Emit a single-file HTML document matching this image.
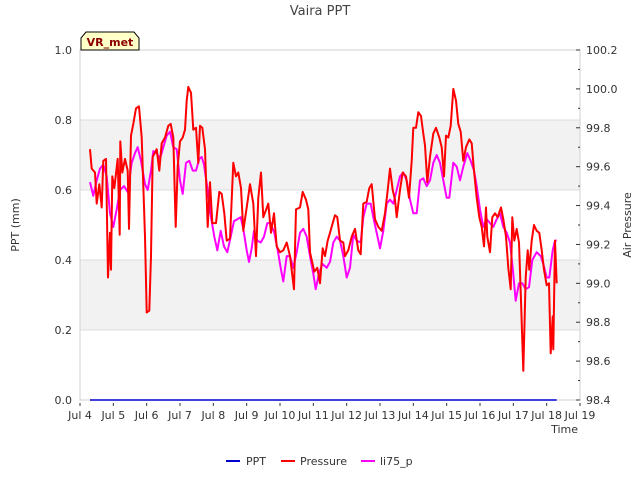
<!DOCTYPE html>
<html><head><meta charset="utf-8"><style>
body{margin:0;background:#fff;}
svg{display:block;font-family:"DejaVu Sans","Liberation Sans",sans-serif;}
</style></head><body>
<svg id="chart" width="640" height="480" viewBox="0 0 640 480">
<text x="320" y="15" text-anchor="middle" font-size="13" fill="#444">Vaira PPT</text>
<g id="plot"></g>
<text transform="translate(19,225) rotate(-90)" text-anchor="middle" font-size="11" fill="#333">PPT (mm)</text>
<text transform="translate(631,225) rotate(-90)" text-anchor="middle" font-size="11" fill="#333">Air Pressure</text>
<text x="578" y="433" text-anchor="end" font-size="11" fill="#333">Time</text>
<g>
<path d="M81,50 L81,38 L86,32 L134,32 L139,38 L139,50 Z" fill="#ffffc8" stroke="#000" stroke-width="1"/>
<text x="110" y="46" text-anchor="middle" font-size="11" font-weight="bold" fill="#8b0000">VR_met</text>
</g>
<g>
<g><line x1="226" y1="461" x2="240" y2="461" stroke="#0000cc" stroke-width="2"/><text x="246" y="465" font-size="11" fill="#333">PPT</text></g>
<g><line x1="281" y1="461" x2="295" y2="461" stroke="#ff0000" stroke-width="2"/><text x="300" y="465" font-size="11" fill="#333">Pressure</text></g>
<g><line x1="361" y1="461" x2="375" y2="461" stroke="#ff00ff" stroke-width="2"/><text x="380" y="465" font-size="11" fill="#333">li75_p</text></g>
</g>
</svg>
<script>
const xTickLabels=["Jul 4","Jul 5","Jul 6","Jul 7","Jul 8","Jul 9","Jul 10","Jul 11","Jul 12","Jul 13","Jul 14","Jul 15","Jul 16","Jul 17","Jul 18","Jul 19"];
const yTickLabels=["0.0","0.2","0.4","0.6","0.8","1.0"];
const y2TickLabels=["98.4","98.6","98.8","99.0","99.2","99.4","99.6","99.8","100.0","100.2"];
const pptDays=[0.30,14.30];
const pptValues=[0,0];
const pressureDays=[0.30,0.35,0.45,0.50,0.58,0.65,0.70,0.78,0.84,0.90,0.93,0.97,1.03,1.13,1.19,1.21,1.27,1.35,1.43,1.47,1.53,1.60,1.68,1.77,1.85,1.95,2.00,2.08,2.13,2.18,2.30,2.38,2.45,2.55,2.65,2.72,2.80,2.87,2.93,3.00,3.08,3.15,3.20,3.25,3.33,3.40,3.48,3.55,3.60,3.67,3.75,3.83,3.90,3.97,4.08,4.18,4.25,4.33,4.40,4.50,4.60,4.68,4.75,4.83,4.90,5.00,5.10,5.20,5.28,5.35,5.43,5.50,5.65,5.73,5.82,5.90,6.00,6.10,6.20,6.30,6.42,6.48,6.60,6.68,6.78,6.85,6.90,7.03,7.12,7.20,7.28,7.35,7.43,7.50,7.58,7.65,7.72,7.80,7.90,7.95,8.05,8.15,8.25,8.35,8.42,8.50,8.60,8.68,8.75,8.85,8.95,9.05,9.15,9.22,9.30,9.38,9.45,9.50,9.60,9.68,9.78,9.87,9.95,10.00,10.08,10.15,10.23,10.30,10.35,10.42,10.50,10.60,10.68,10.78,10.85,10.92,10.98,11.05,11.12,11.20,11.28,11.35,11.42,11.50,11.58,11.68,11.75,11.82,11.90,11.98,12.05,12.12,12.18,12.22,12.30,12.37,12.45,12.53,12.63,12.70,12.78,12.85,12.92,12.97,13.03,13.10,13.17,13.23,13.30,13.37,13.43,13.48,13.55,13.62,13.70,13.78,13.85,13.92,14.00,14.07,14.12,14.18,14.20,14.25,14.30];
const pressureValues=[99.69,99.59,99.57,99.41,99.51,99.39,99.63,99.64,99.03,99.26,99.07,99.55,99.49,99.64,99.25,99.73,99.57,99.64,99.58,99.28,99.76,99.82,99.90,99.91,99.75,99.24,98.85,98.86,99.14,99.65,99.69,99.58,99.72,99.75,99.81,99.82,99.75,99.29,99.60,99.73,99.75,99.79,99.94,100.01,99.98,99.79,99.80,99.62,99.81,99.80,99.69,99.29,99.52,99.31,99.31,99.47,99.46,99.36,99.22,99.23,99.62,99.55,99.57,99.49,99.27,99.39,99.51,99.41,99.14,99.44,99.57,99.34,99.41,99.26,99.36,99.19,99.16,99.17,99.21,99.14,98.97,99.38,99.39,99.47,99.43,99.38,99.16,99.06,99.08,99.00,99.18,99.14,99.22,99.26,99.31,99.35,99.34,99.22,99.21,99.14,99.17,99.24,99.28,99.17,99.15,99.41,99.42,99.49,99.51,99.33,99.29,99.27,99.36,99.46,99.59,99.48,99.43,99.34,99.48,99.57,99.55,99.44,99.63,99.80,99.80,99.88,99.86,99.77,99.71,99.52,99.65,99.77,99.80,99.75,99.70,99.55,99.76,99.75,99.81,100.00,99.94,99.82,99.78,99.63,99.70,99.74,99.72,99.58,99.44,99.34,99.29,99.19,99.39,99.24,99.16,99.34,99.36,99.34,99.39,99.33,99.24,99.08,98.97,99.34,99.22,99.28,99.21,98.91,98.55,99.03,99.17,99.07,99.22,99.30,99.27,99.26,99.17,99.07,98.99,99.00,98.64,98.83,98.66,99.22,99.00];
const li75Days=[0.30,0.40,0.50,0.60,0.70,0.80,0.90,1.00,1.10,1.20,1.32,1.43,1.55,1.65,1.73,1.83,1.95,2.03,2.13,2.20,2.30,2.40,2.50,2.60,2.70,2.80,2.90,3.00,3.08,3.18,3.28,3.38,3.48,3.58,3.65,3.72,3.83,3.93,4.03,4.12,4.22,4.32,4.42,4.52,4.62,4.72,4.82,4.90,5.00,5.07,5.15,5.22,5.32,5.42,5.52,5.62,5.72,5.83,5.93,6.03,6.10,6.20,6.30,6.40,6.50,6.60,6.70,6.80,6.90,7.00,7.07,7.17,7.27,7.40,7.50,7.60,7.70,7.80,7.90,8.00,8.10,8.20,8.30,8.42,8.50,8.60,8.72,8.80,8.90,9.00,9.10,9.20,9.30,9.40,9.50,9.60,9.70,9.80,9.90,10.00,10.10,10.20,10.30,10.40,10.50,10.60,10.70,10.80,10.90,11.00,11.08,11.20,11.30,11.40,11.50,11.62,11.72,11.82,11.90,12.00,12.10,12.20,12.30,12.40,12.50,12.60,12.70,12.80,12.90,12.98,13.07,13.17,13.27,13.37,13.47,13.57,13.70,13.82,13.90,14.00,14.08,14.18,14.25,14.30];
const li75Values=[99.52,99.45,99.53,99.59,99.61,99.55,99.36,99.29,99.38,99.48,99.50,99.47,99.62,99.67,99.70,99.63,99.51,99.48,99.58,99.68,99.67,99.64,99.70,99.76,99.78,99.70,99.69,99.53,99.46,99.62,99.63,99.58,99.58,99.64,99.65,99.61,99.48,99.34,99.24,99.17,99.27,99.19,99.16,99.24,99.32,99.33,99.34,99.28,99.17,99.11,99.18,99.27,99.22,99.21,99.24,99.31,99.31,99.26,99.17,99.07,99.01,99.14,99.14,99.08,99.16,99.26,99.28,99.24,99.14,99.05,98.97,99.05,99.10,99.08,99.11,99.21,99.24,99.22,99.14,99.03,99.08,99.25,99.22,99.21,99.34,99.41,99.41,99.34,99.26,99.18,99.27,99.41,99.43,99.41,99.48,99.55,99.57,99.53,99.43,99.36,99.36,99.53,99.54,99.50,99.53,99.62,99.66,99.62,99.53,99.44,99.44,99.62,99.60,99.53,99.60,99.67,99.63,99.58,99.50,99.38,99.29,99.33,99.31,99.29,99.33,99.36,99.29,99.26,99.21,99.08,98.91,99.00,99.00,98.97,98.98,99.12,99.16,99.14,99.10,99.03,99.03,99.17,99.22,99.22];

const L=80,R=580,T=50,B=400;
const xScale=d=>L+(d/15)*(R-L);
const yScale=v=>B-(v/1.0)*(B-T);
const y2Scale=p=>B-((p-98.4)/1.8)*(B-T);
const NS="http://www.w3.org/2000/svg";
const plot=document.getElementById('plot');
function mk(tag,attrs,parent){const e=document.createElementNS(NS,tag);for(const k in attrs)e.setAttribute(k,attrs[k]);(parent||plot).appendChild(e);return e;}

// background bands
[[0.2,0.4],[0.6,0.8]].forEach(b=>{
  const r=mk('rect',{x:L,y:yScale(b[1]),width:R-L,height:yScale(b[0])-yScale(b[1]),fill:'#f2f2f2'});
  
  
});
// gridlines
yTickLabels.forEach((lab,i)=>{
  const v=parseFloat(lab);
  if(v>0&&v<1){const g=mk('line',{x1:L,x2:R,y1:yScale(v),y2:yScale(v),stroke:'#dcdcdc','stroke-width':1});
  
  }
  const t=mk('text',{x:L-8,y:yScale(v)+4,'text-anchor':'end','font-size':11,fill:'#333'});
  t.textContent=lab;
  
  
});
// frame
const fr=mk('rect',{x:L,y:T,width:R-L,height:B-T,fill:'none',stroke:'#d0d0d0','stroke-width':1});


// right axis ticks
y2TickLabels.forEach((lab,i)=>{
  const p=parseFloat(lab);const y=y2Scale(p);
  const tk=mk('line',{x1:R,x2:R-4,y1:y,y2:y,stroke:'#333'});
  
  
  if(i<y2TickLabels.length-1){const m=mk('line',{x1:R,x2:R-2,y1:y2Scale(p+0.1),y2:y2Scale(p+0.1),stroke:'#333'});
  
  }
  const t=mk('text',{x:R+6,y:y+4,'font-size':11,fill:'#333'});
  t.textContent=lab;
  
  
});
// x ticks
xTickLabels.forEach((lab,i)=>{
  const x=xScale(i);
  const tk=mk('line',{x1:x,x2:x,y1:B+3,y2:B+6,stroke:'#333'});
  
  
  const t=mk('text',{x:x,y:B+19,'text-anchor':'middle','font-size':11,fill:'#333'});
  t.textContent=lab;
  
  
});
function path(days,vals,sc){return days.map((d,i)=>(i?'L':'M')+xScale(d).toFixed(1)+','+sc(vals[i]).toFixed(1)).join(' ');}
const pp=mk('path',{d:path(pptDays,pptValues,yScale),fill:'none',stroke:'#0000cc','stroke-width':1.5});


const lp=mk('path',{d:path(li75Days,li75Values,y2Scale),fill:'none',stroke:'#ff00ff','stroke-width':2,'stroke-linejoin':'round'});


const rp=mk('path',{d:path(pressureDays,pressureValues,y2Scale),fill:'none',stroke:'#ff0000','stroke-width':2,'stroke-linejoin':'round'});


</script>
</body></html>
